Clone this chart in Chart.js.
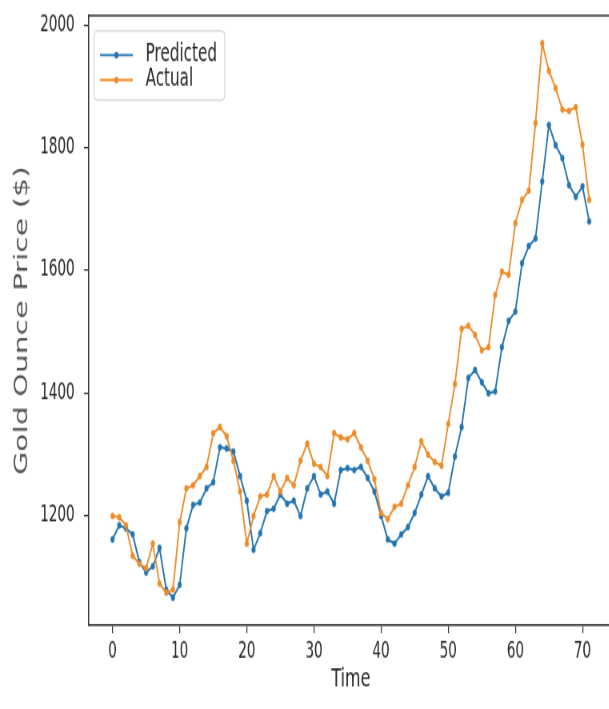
<!DOCTYPE html>
<html>
<head>
<meta charset="utf-8">
<script src="https://cdn.jsdelivr.net/npm/chart.js@4.4.1/dist/chart.umd.min.js"></script>
<style>
  html, body { margin: 0; padding: 0; background: #ffffff; overflow: hidden; width: 609px; height: 709px; }
  #stage { width: 780px; height: 546px; transform: scale(0.8, 1.3); transform-origin: 0 0; }
</style>
</head>
<body>
<div id="stage"><canvas id="chart" width="780" height="546"></canvas></div>
<script>
// Monthly gold ounce price: model prediction vs. actual (USD)
const timeSteps = Array.from({ length: 72 }, (_, i) => i);

const predicted = [
  1162, 1185, 1180, 1170, 1125, 1108, 1118, 1148, 1080, 1067,
  1088, 1180, 1218, 1222, 1245, 1255, 1312, 1310, 1305, 1265,
  1225, 1145, 1172, 1208, 1212, 1235, 1220, 1225, 1200, 1245,
  1265, 1235, 1240, 1220, 1275, 1278, 1275, 1280, 1262, 1240,
  1200, 1162, 1155, 1170, 1182, 1205, 1235, 1265, 1245, 1232,
  1238, 1297, 1345, 1425, 1438, 1418, 1400, 1403, 1475, 1518,
  1533, 1612, 1640, 1652, 1745, 1837, 1804, 1783, 1739, 1720,
  1737, 1680
];

const actual = [
  1200, 1198, 1185, 1135, 1122, 1115, 1155, 1090, 1075, 1080,
  1190, 1245, 1250, 1265, 1280, 1335, 1345, 1330, 1290, 1240,
  1155, 1200, 1232, 1235, 1265, 1240, 1262, 1250, 1290, 1318,
  1285, 1280, 1265, 1335, 1328, 1325, 1335, 1312, 1290, 1260,
  1205, 1195, 1215, 1220, 1250, 1280, 1322, 1300, 1288, 1282,
  1350, 1415, 1505, 1510, 1495, 1470, 1475, 1560, 1598, 1593,
  1677, 1715, 1730, 1840, 1970, 1925, 1897, 1862, 1860, 1866,
  1805, 1715
];

const xTicks = [0, 10, 20, 30, 40, 50, 60, 70];
const yTicks = [1200, 1400, 1600, 1800, 2000];

const seriesNames = ['Predicted', 'Actual'];
const seriesColors = ['#2474b0', '#ec8c2a'];

const FONT = 'DejaVu Sans';
const TEXT = '#262626';
const SPINE = '#333333';

const toPoints = (vals) => vals.map((v, i) => ({ x: timeSteps[i], y: v }));

// Axes frame: top and right spines (left/bottom come from the scale borders)
const framePlugin = {
  id: 'frame',
  afterDatasetsDraw(chart) {
    const { ctx, chartArea: a } = chart;
    ctx.save();
    ctx.strokeStyle = SPINE;
    ctx.lineWidth = 1.5;
    ctx.beginPath();
    ctx.moveTo(a.left, a.top);
    ctx.lineTo(a.right, a.top);
    ctx.lineTo(a.right, a.bottom);
    ctx.stroke();
    ctx.restore();
  }
};

// Legend box in the upper-left corner of the plot
const innerLegend = {
  id: 'innerLegend',
  afterDraw(chart) {
    const { ctx, chartArea: a } = chart;
    const x0 = a.left + 6.6, y0 = a.top + 11.7, w = 163.5, h = 53.2, r = 4;
    ctx.save();
    ctx.fillStyle = 'rgba(255,255,255,0.8)';
    ctx.strokeStyle = '#cccccc';
    ctx.lineWidth = 1;
    ctx.beginPath();
    ctx.roundRect(x0, y0, w, h, r);
    ctx.fill();
    ctx.stroke();
    chart.data.datasets.forEach((ds, i) => {
      const yy = y0 + 18.5 + i * 19.2;
      ctx.strokeStyle = ds.borderColor;
      ctx.lineWidth = 1.8;
      ctx.beginPath();
      ctx.moveTo(x0 + 7.5, yy);
      ctx.lineTo(x0 + 48.5, yy);
      ctx.stroke();
      ctx.fillStyle = ds.borderColor;
      ctx.beginPath();
      ctx.arc(x0 + 28, yy, 2.6, 0, Math.PI * 2);
      ctx.fill();
      ctx.fillStyle = TEXT;
      ctx.font = '19px "' + FONT + '"';
      ctx.textBaseline = 'middle';
      ctx.textAlign = 'left';
      ctx.fillText(ds.label, x0 + 64.5, yy);
    });
    ctx.restore();
  }
};

const plainNumber = (v) => String(v);

new Chart(document.getElementById('chart'), {
  type: 'line',
  data: {
    datasets: [
      {
        label: seriesNames[0],
        data: toPoints(predicted),
        borderColor: seriesColors[0],
        backgroundColor: seriesColors[0],
        pointBackgroundColor: seriesColors[0],
        pointBorderColor: seriesColors[0],
        borderWidth: 1.9,
        pointRadius: 2.4,
        pointBorderWidth: 0.5,
        tension: 0,
        fill: false,
        order: 1
      },
      {
        label: seriesNames[1],
        data: toPoints(actual),
        borderColor: seriesColors[1],
        backgroundColor: seriesColors[1],
        pointBackgroundColor: seriesColors[1],
        pointBorderColor: seriesColors[1],
        borderWidth: 1.9,
        pointRadius: 2.4,
        pointBorderWidth: 0.5,
        tension: 0,
        fill: false,
        order: 0
      }
    ]
  },
  options: {
    responsive: false,
    animation: false,
    devicePixelRatio: 1,
    layout: { padding: { left: 0, top: 12.1, right: 13.7, bottom: 0 } },
    plugins: {
      legend: { display: false },
      tooltip: { enabled: false },
      title: { display: false }
    },
    scales: {
      x: {
        type: 'linear',
        min: -3.55,
        max: 74.55,
        afterBuildTicks: (s) => { s.ticks = xTicks.map(v => ({ value: v })); },
        afterFit: (s) => { s.height = 65; s.paddingLeft = 0; s.paddingRight = 0; },
        ticks: { color: TEXT, font: { family: FONT, size: 17 }, padding: 4, maxRotation: 0, autoSkip: false, callback: plainNumber },
        grid: { drawOnChartArea: false, drawTicks: true, tickLength: 6, color: SPINE, lineWidth: 1.2 },
        border: { display: true, color: SPINE, width: 1.5 },
        title: { display: true, text: 'Time', color: TEXT, font: { family: FONT, size: 20 }, padding: { top: 0, bottom: 11 } }
      },
      y: {
        type: 'linear',
        min: 1022,
        max: 2015,
        afterBuildTicks: (s) => { s.ticks = yTicks.map(v => ({ value: v })); },
        afterFit: (s) => { s.width = 110.9; s.paddingTop = 0; s.paddingBottom = 0; },
        ticks: { color: TEXT, font: { family: FONT, size: 17 }, padding: 11.5, autoSkip: false, callback: plainNumber },
        grid: { drawOnChartArea: false, drawTicks: true, tickLength: 6, color: SPINE, lineWidth: 1.2 },
        border: { display: true, color: SPINE, width: 1.5 },
        title: { display: true, text: 'Gold Ounce Price ($)', color: '#555555', font: { family: FONT, size: 23 }, padding: { top: 14, bottom: 0 } }
      }
    }
  },
  plugins: [framePlugin, innerLegend]
});
</script>
</body>
</html>
